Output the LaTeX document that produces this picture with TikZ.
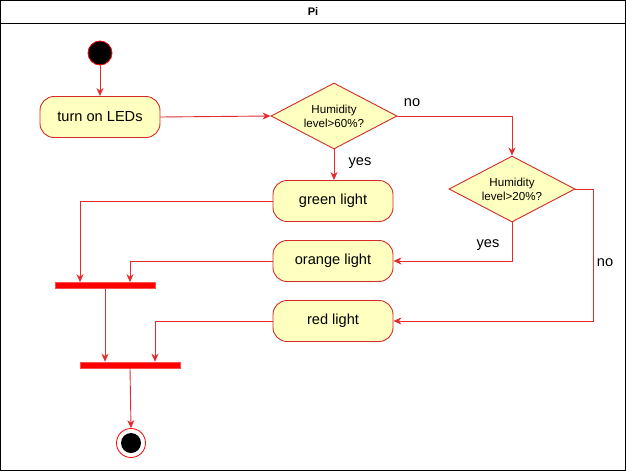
\documentclass[tikz,border=0pt]{standalone}
\usepackage{fontspec}
\setmainfont{Liberation Sans}
\usetikzlibrary{shapes.geometric,arrows.meta,calc}
\definecolor{actfill}{HTML}{FFFFC0}
\definecolor{actline}{HTML}{D42A2A}
\definecolor{edgecol}{HTML}{E52B2B}
\definecolor{barfill}{HTML}{FF0000}
\begin{document}
\begin{tikzpicture}[x=1pt,y=-1pt,
  actbox/.style={draw=actline,fill=actfill,rounded corners=14pt,minimum width=120pt,minimum height=41pt,inner sep=0pt,font=\fontsize{14.6}{16}\selectfont,line width=0.9pt},
  decbox/.style={draw=actline,fill=actfill,diamond,aspect=1.9,minimum width=126pt,minimum height=66pt,inner sep=0pt,align=center,font=\fontsize{11.6}{14}\selectfont,line width=0.9pt},
  barbox/.style={draw=red!70,fill=barfill,minimum width=100pt,minimum height=6pt,inner sep=0pt,line width=0.6pt},
  edge/.style={draw=edgecol,line width=0.9pt,-{Stealth[length=8pt,width=7pt,inset=2.5pt]}},
  plain/.style={draw=edgecol,line width=0.9pt},
  lbl/.style={font=\fontsize{14.6}{16}\selectfont,inner sep=0pt}]
\useasboundingbox (0,0) rectangle (626,471);
\draw[line width=1pt] (0.5,0.5) rectangle (625.5,470.5);
\draw[line width=1pt] (0.5,23) -- (625.5,23);
\node[font=\bfseries\fontsize{11}{13}\selectfont] (title) at (313,12) {Pi};

\node[circle,draw=red,fill=black,minimum size=24pt,inner sep=0pt,line width=0.8pt] (start) at (100,53) {};
\node[actbox] (led) at (100,117) {turn on LEDs};
\node[decbox] (d1) at (334,116) {Humidity\\level>60\%?};
\node[decbox] (d2) at (512,189) {Humidity\\level>20\%?};
\node[actbox] (green) at (333,201) {green light};
\node[actbox] (orange) at (333,261) {orange light};
\node[actbox] (redl) at (333,321) {red light};
\node[barbox] (bar1) at (105,285.5) {};
\node[barbox] (bar2) at (130,365) {};
\node[circle,draw=red,fill=white,minimum size=29pt,inner sep=0pt,line width=0.8pt,
  path picture={\fill[black] (path picture bounding box.center) circle (10pt);}] (stop) at (131,443) {};

\coordinate (c2) at ($(d2.east)+(18,0)$);

\draw[edge] (start) -- (led);
\draw[edge] (led.east) -- (d1.west);
\draw[edge] (d1.east) -| (d2.north);
\draw[edge] (d1.south) -- (d1.south |- green.north);
\draw[edge] (d2.south) |- (orange.east);
\draw[plain] (d2.east) -- (c2);
\draw[edge] (c2) |- (redl.east);
\draw[edge] (green.west) -| ($(bar1.north)+(-25,0)$);
\draw[edge] (orange.west) -| ($(bar1.north)+(25,0)$);
\draw[edge] (bar1.south) -- (bar1.south |- bar2.north);
\draw[edge] (redl.west) -| ($(bar2.north)+(25,0)$);
\draw[edge] (bar2.south) -- (stop.north);

\node[lbl] (no1) at (412,103) {no};
\node[lbl] (yes1) at (360,163) {yes};
\node[lbl] (yes2) at (488,245) {yes};
\node[lbl] (no2) at (605,263) {no};
\end{tikzpicture}
\end{document}
